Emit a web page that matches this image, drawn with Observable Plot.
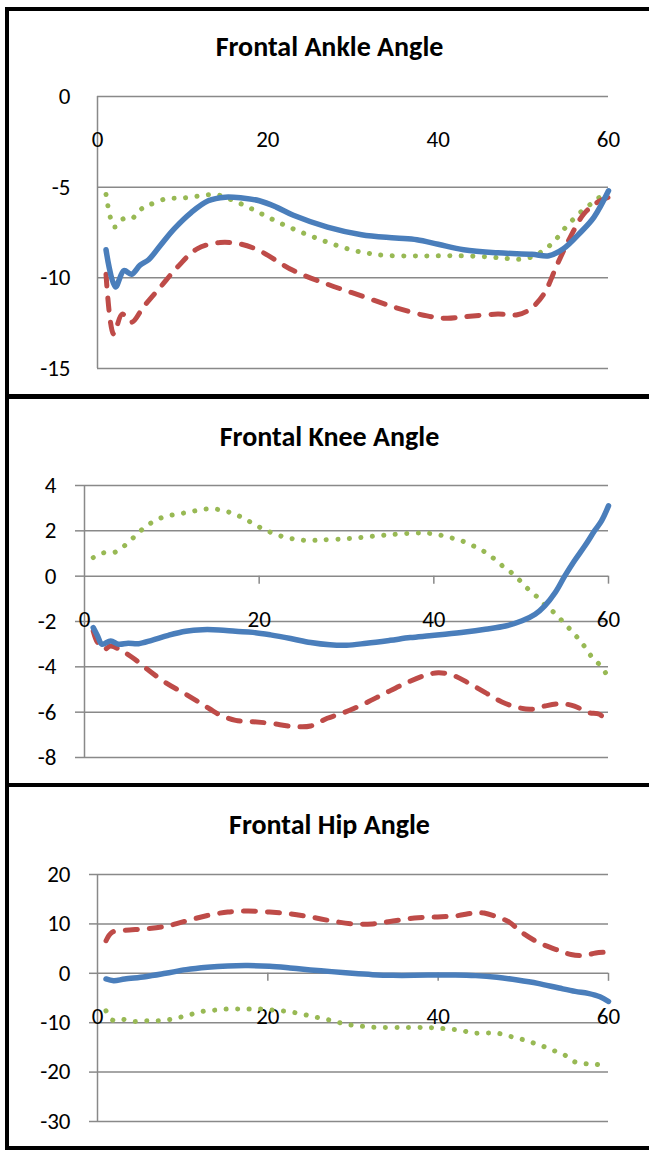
<!DOCTYPE html>
<html><head><meta charset="utf-8">
<script src="https://cdn.jsdelivr.net/npm/d3@7"></script>
<script src="https://cdn.jsdelivr.net/npm/@observablehq/plot@0.6"></script>
<style>
html,body{margin:0;padding:0;background:#fff;width:649px;height:1150px;overflow:hidden;position:relative;font-family:Carlito,Lato,sans-serif}
.panel{position:absolute;left:5px;width:720px;border:4px solid #000;box-sizing:border-box}
.title{position:absolute;left:0;width:659px;text-align:center;font-weight:bold;font-size:28px;line-height:30px;color:#000}
.chart{position:absolute;left:0}
</style></head><body>
<div class="panel" style="top:7px;height:391px"></div>
<div class="panel" style="top:395px;height:392px"></div>
<div class="panel" style="top:783px;height:367px"></div>
<div class="title" style="top:32px">Frontal Ankle Angle</div>
<div class="title" style="top:422px">Frontal Knee Angle</div>
<div class="title" style="top:810px">Frontal Hip Angle</div>
<div id="c1" class="chart" style="top:0px"></div>
<div id="c2" class="chart" style="top:400px"></div>
<div id="c3" class="chart" style="top:790px"></div>
<script>
// ---------- data ----------
const titles = ["Frontal Ankle Angle", "Frontal Knee Angle", "Frontal Hip Angle"];
const xTicks = [0, 20, 40, 60];
const xDomain = [0, 60];
const xAxisCross = 0;

const ankleYTicks = [0, -5, -10, -15];
const ankleBlueX = [1, 2.1, 3.1, 4, 5, 6, 7.4, 9, 11, 13, 15, 17, 19, 21, 23, 27, 31, 35, 37.5, 40, 43, 47, 51, 53, 54.7, 56.7, 58.3, 60];
const ankleBlueY = [-8.45, -10.5, -9.6, -9.8, -9.3, -9.0, -8.2, -7.3, -6.4, -5.75, -5.55, -5.6, -5.75, -6.1, -6.55, -7.2, -7.62, -7.8, -7.9, -8.15, -8.45, -8.62, -8.7, -8.78, -8.4, -7.5, -6.65, -5.2];
const ankleRedX = [1, 1.9, 2.9, 4, 5.4, 7.4, 9.4, 11.7, 14.4, 16.8, 19, 23, 27, 31, 35, 38.7, 41, 43, 47, 49.3, 50.8, 52.4, 54, 55.5, 57.1, 58.7, 60];
const ankleRedY = [-9.8, -13.1, -12.0, -12.45, -11.6, -10.5, -9.4, -8.4, -8.05, -8.14, -8.5, -9.6, -10.35, -11.0, -11.64, -12.1, -12.23, -12.15, -12.0, -12.04, -11.73, -10.9, -9.24, -7.77, -6.48, -5.83, -5.56];
const ankleGreenX = [1, 2, 3, 4, 5, 6, 8, 10, 12, 14, 16, 18, 20, 22, 24, 26, 28, 30, 32, 34, 38, 42, 46, 48, 49.5, 51, 52, 53.5, 55, 56.7, 58, 59, 60];
const ankleGreenY = [-5.4, -7.2, -6.75, -6.75, -6.25, -6.0, -5.65, -5.6, -5.48, -5.42, -5.75, -6.17, -6.65, -7.1, -7.5, -7.86, -8.2, -8.48, -8.66, -8.77, -8.8, -8.78, -8.85, -8.93, -8.98, -8.85, -8.6, -8.05, -7.2, -6.39, -5.9, -5.55, -5.45];

const kneeYTicks = [4, 2, 0, -2, -4, -6, -8];
const kneeBlueX = [1, 1.5, 2, 3, 3.9, 5, 6.2, 7.7, 9.6, 11.6, 13.5, 15.4, 17.3, 19.3, 21.3, 23.6, 25.9, 28.1, 30, 32.3, 35, 37.3, 39.5, 41.3, 43.6, 45.9, 48.2, 50.1, 51.6, 52.7, 53.9, 55, 56.1, 57.3, 58.4, 59.2, 60];
const kneeBlueY = [-2.27, -2.64, -3.0, -2.86, -3.0, -2.96, -2.98, -2.83, -2.61, -2.43, -2.36, -2.37, -2.43, -2.48, -2.59, -2.75, -2.93, -3.03, -3.05, -2.96, -2.83, -2.71, -2.63, -2.56, -2.46, -2.34, -2.2, -1.97, -1.68, -1.31, -0.72, 0.01, 0.68, 1.34, 2.0, 2.44, 3.1];
const kneeRedX = [1, 1.5, 2.3, 3, 4.3, 5.6, 7.2, 9.3, 11.6, 13.5, 15.4, 17.3, 19.2, 21.3, 23.9, 25.9, 27.8, 29.7, 31.9, 34.2, 36.5, 38.8, 40.5, 42.1, 43.9, 45.9, 47.8, 49.7, 51.2, 52.7, 54.6, 56.1, 57.7, 59, 60];
const kneeRedY = [-2.42, -2.93, -3.22, -3.08, -3.3, -3.62, -4.11, -4.7, -5.21, -5.65, -6.1, -6.36, -6.42, -6.49, -6.63, -6.61, -6.27, -6.02, -5.65, -5.21, -4.77, -4.4, -4.26, -4.36, -4.7, -5.14, -5.55, -5.8, -5.87, -5.73, -5.63, -5.73, -6.02, -6.1, -6.55];
const kneeGreenX = [1, 2.2, 3.5, 4.6, 5.6, 6.6, 7.7, 8.9, 10.2, 11.6, 12.9, 14.2, 15.5, 16.9, 18.1, 19.3, 20.5, 21.7, 23.1, 24.4, 25.7, 27.1, 29.8, 32.5, 35.2, 37.9, 39.2, 40.6, 41.9, 43.2, 44.5, 45.7, 46.8, 47.8, 48.9, 49.9, 50.8, 51.9, 52.8, 53.9, 54.8, 55.7, 56.6, 57.4, 58.2, 59.2, 60];
const kneeGreenY = [0.82, 1.03, 1.06, 1.35, 1.7, 2.06, 2.37, 2.59, 2.71, 2.8, 2.9, 2.97, 2.93, 2.78, 2.58, 2.32, 2.07, 1.88, 1.7, 1.62, 1.57, 1.6, 1.65, 1.74, 1.84, 1.9, 1.9, 1.82, 1.7, 1.56, 1.34, 1.1, 0.8, 0.47, 0.15, -0.21, -0.57, -0.94, -1.3, -1.65, -2.02, -2.39, -2.78, -3.18, -3.62, -3.99, -4.5];

const hipYTicks = [20, 10, 0, -10, -20, -30];
const hipBlueX = [1, 1.9, 3.2, 5.6, 8, 10.4, 12.9, 15.3, 17.7, 20.2, 22.6, 25, 27.5, 29.9, 32.3, 34.7, 37.2, 39.6, 42, 44.4, 46.9, 49.3, 51.7, 54.2, 56.1, 57.6, 59, 60];
const hipBlueY = [-1.15, -1.5, -1.15, -0.68, 0, 0.74, 1.22, 1.49, 1.56, 1.42, 1.08, 0.68, 0.34, 0, -0.27, -0.41, -0.41, -0.34, -0.34, -0.47, -0.81, -1.35, -2.03, -2.98, -3.66, -4.06, -4.74, -5.7];
const hipRedX = [1, 1.7, 3.2, 5.6, 8, 10, 12.9, 15.3, 17.7, 20.2, 22.6, 25, 27.5, 29.9, 32.3, 34.7, 37.2, 39.6, 42, 44.4, 45.4, 46.9, 48.3, 49.8, 51.7, 54.2, 55.6, 57.1, 58.5, 60];
const hipRedY = [6.6, 8.3, 8.7, 9.0, 9.5, 10.4, 11.7, 12.4, 12.6, 12.4, 12.05, 11.4, 10.6, 10.0, 10.0, 10.6, 11.2, 11.4, 11.6, 12.25, 12.2, 11.4, 10.4, 8.3, 6.3, 4.6, 3.8, 3.6, 4.1, 4.3];
const hipGreenX = [1, 1.8, 2.9, 4.2, 5.6, 6.9, 8.3, 9.7, 11, 12.4, 13.8, 15.2, 16.7, 18, 19.4, 20.7, 22.1, 23.5, 24.9, 26.2, 27.6, 28.9, 30.3, 31.7, 33, 36, 38.6, 40, 41.4, 42.8, 44.1, 45.5, 46.9, 48.3, 49.7, 51, 52.2, 53.5, 54.8, 56, 57.3, 58.5, 60];
const hipGreenY = [-7.6, -9.5, -9.3, -9.75, -9.6, -9.6, -9.4, -8.9, -8.3, -7.7, -7.45, -7.24, -7.24, -7.24, -7.24, -7.45, -7.7, -8.06, -8.6, -9.07, -9.6, -10.2, -10.6, -10.8, -10.97, -10.97, -10.97, -11.1, -11.3, -11.6, -12.1, -12.1, -12.1, -12.7, -13.3, -14.0, -14.7, -15.6, -16.5, -17.9, -18.3, -18.4, -19.0];

// ---------- style ----------
const gridColor = "#898989";
const blue = "#4A7EBB", red = "#BE4B48", green = "#98B954";
const font = "Carlito, Lato, sans-serif";

function rows(xs, ys) { return xs.map((x, i) => ({x, y: ys[i]})); }

function panel(el, {height, marginTop, marginBottom, marginLeft, yDomain, yTicks, yTickSize, yTickPadding, xTickMarks, blueD, redD, greenD}) {
  const marks = [
    Plot.ruleY(yTicks, {stroke: gridColor, strokeWidth: 1.5}),
    Plot.ruleX([xDomain[0]], {stroke: gridColor, strokeWidth: 1.5}),
    Plot.axisY({ticks: yTicks, tickSize: yTickSize, tickPadding: yTickPadding, label: null, stroke: gridColor, strokeWidth: 1.5, fill: "#000", fontSize: 23, tickFormat: d => String(d)}),
    Plot.text(xTicks, {x: d => d, y: () => xAxisCross, dy: 43, text: d => String(d), fill: "#000", fontSize: 23}),
    Plot.line(greenD, {x: "x", y: "y", stroke: green, strokeWidth: 5, strokeDasharray: "0.1 11.4", strokeLinecap: "round", curve: "catmull-rom"}),
    Plot.line(redD, {x: "x", y: "y", stroke: red, strokeWidth: 5, strokeDasharray: "12 12", strokeLinecap: "round", curve: "catmull-rom"}),
    Plot.line(blueD, {x: "x", y: "y", stroke: blue, strokeWidth: 5.5, strokeLinecap: "round", curve: "catmull-rom"})
  ];
  if (xTickMarks) marks.splice(3, 0, Plot.ruleX(xTicks.slice(1), {x: d => d, y1: () => xAxisCross, y2: () => xAxisCross, insetBottom: -8, stroke: gridColor, strokeWidth: 1.5}));
  const chart = Plot.plot({
    width: 649, height, marginTop, marginBottom, marginLeft, marginRight: 41,
    style: {background: "transparent", fontFamily: font, fontSize: "23px", overflow: "visible"},
    x: {domain: xDomain, axis: null},
    y: {domain: yDomain, label: null},
    marks
  });
  document.getElementById(el).appendChild(chart);
}

panel("c1", {height: 390, marginTop: 96, marginBottom: 22, marginLeft: 97, yDomain: [-15, 0], yTicks: ankleYTicks, yTickSize: 0, yTickPadding: 27, xTickMarks: false,
  blueD: rows(ankleBlueX, ankleBlueY), redD: rows(ankleRedX, ankleRedY), greenD: rows(ankleGreenX, ankleGreenY)});
panel("c2", {height: 380, marginTop: 85, marginBottom: 23, marginLeft: 84, yDomain: [-8, 4], yTicks: kneeYTicks, yTickSize: 9, yTickPadding: 19, xTickMarks: true,
  blueD: rows(kneeBlueX, kneeBlueY), redD: rows(kneeRedX, kneeRedY), greenD: rows(kneeGreenX, kneeGreenY)});
panel("c3", {height: 350, marginTop: 84, marginBottom: 19, marginLeft: 97, yDomain: [-30, 20], yTicks: hipYTicks, yTickSize: 8, yTickPadding: 19, xTickMarks: true,
  blueD: rows(hipBlueX, hipBlueY), redD: rows(hipRedX, hipRedY), greenD: rows(hipGreenX, hipGreenY)});
</script>
</body></html>
